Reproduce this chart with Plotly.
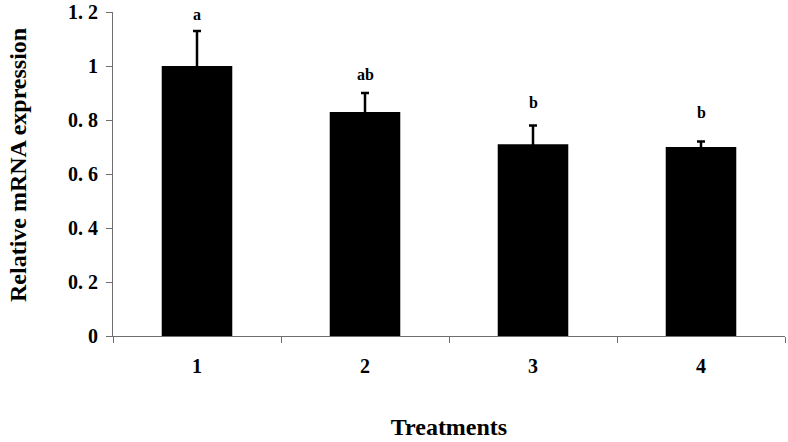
import plotly.graph_objects as go

treatments = ["1", "2", "3", "4"]
expression = [1.0, 0.83, 0.71, 0.70]
sem = [0.13, 0.07, 0.07, 0.02]
letters = ["a", "ab", "b", "b"]
letter_y = [1.19, 0.97, 0.863, 0.826]

y_ticks = [0, 0.2, 0.4, 0.6, 0.8, 1.0, 1.2]
y_ticktext = ["0", "0. 2", "0. 4", "0. 6", "0. 8", "1", "1. 2"]

serif = "Liberation Serif"
axis_col = "#6e6e6e"
bold = dict(family=serif, color="black", weight="bold")

fig = go.Figure()
fig.add_trace(go.Bar(x=treatments, y=expression, width=0.42,
                     marker=dict(color="black", line=dict(width=0)),
                     error_y=dict(type="data", array=sem, symmetric=True,
                                  color="black", thickness=2.5, width=4),
                     showlegend=False, hoverinfo="skip"))

# significance letters, placed by category index
for i, (lab, ly) in enumerate(zip(letters, letter_y)):
    fig.add_annotation(x=i, y=ly, text=lab, showarrow=False, yanchor="middle",
                       font=dict(bold, size=16))

# y title as annotation so it can sit where the original has it
fig.add_annotation(text="Relative mRNA expression", xref="paper", yref="paper",
                   x=0, y=0.5, xshift=-110, yshift=9, textangle=-90, showarrow=False,
                   font=dict(bold, size=24))

fig.update_layout(
    width=788, height=442,
    margin=dict(l=113, r=3, t=12, b=106),
    plot_bgcolor="white", paper_bgcolor="white",
    font=dict(family=serif, color="black"),
    xaxis=dict(type="category", range=[-0.5, 3.5], showline=True, linecolor=axis_col,
               linewidth=1, ticks="outside", ticklen=6, tickcolor=axis_col,
               tickson="boundaries", ticklabelstandoff=12,
               tickfont=dict(bold, size=20),
               title=dict(text="Treatments", standoff=42, font=dict(bold, size=24)),
               showgrid=False, zeroline=False, automargin=False),
    yaxis=dict(range=[0, 1.2], tickvals=y_ticks, ticktext=y_ticktext,
               showline=True, linecolor=axis_col, linewidth=1,
               ticks="outside", ticklen=6, tickcolor=axis_col, ticklabelstandoff=4,
               tickfont=dict(bold, size=20),
               showgrid=False, zeroline=False, automargin=False),
    xaxis2=dict(overlaying="x", anchor="y2", range=[-0.5, 3.5],
                tickvals=[-0.5, 0.5, 1.5, 2.5, 3.5], ticks="inside", ticklen=5,
                tickcolor=axis_col, showticklabels=False, showgrid=False,
                zeroline=False, showline=False, automargin=False),
    yaxis2=dict(overlaying="y", anchor="x2", range=[0, 1.2], tickvals=y_ticks,
                ticks="inside", ticklen=5, tickcolor=axis_col, showticklabels=False,
                showgrid=False, zeroline=False, showline=False, automargin=False),
)

fig.write_html("out.html", config={"displayModeBar": False},
               post_script="document.body.style.margin='0';document.body.style.overflow='hidden';")
